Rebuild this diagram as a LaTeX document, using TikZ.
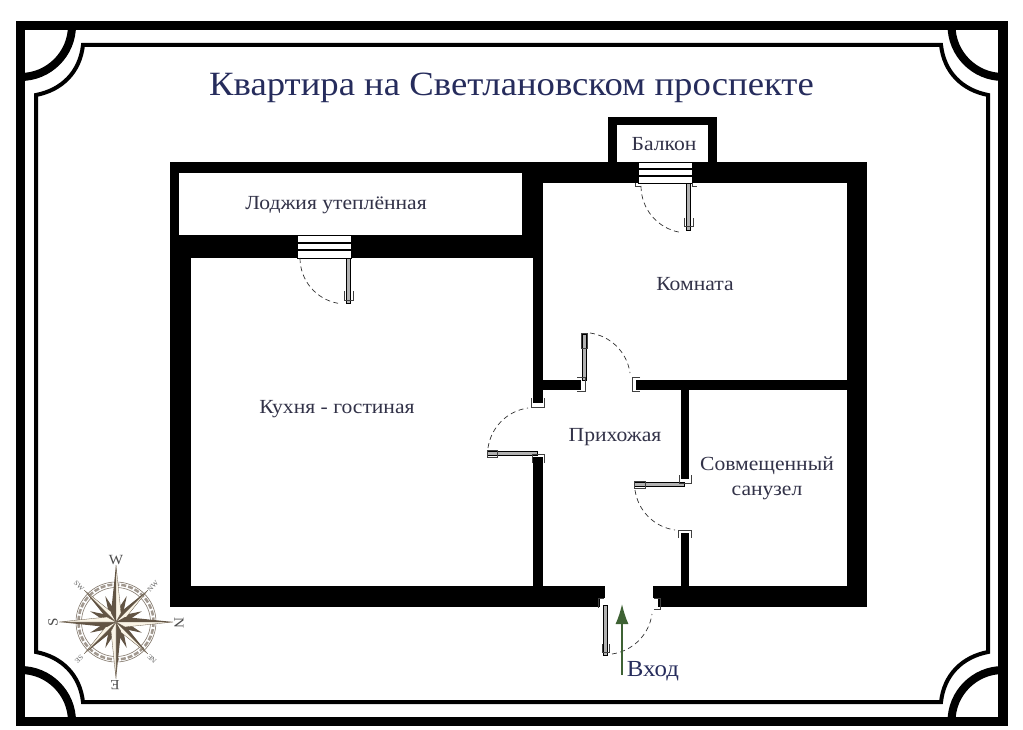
\documentclass[tikz,border=0pt]{standalone}
\usepackage{fontspec}
\setmainfont[FakeStretch=1.08]{Liberation Serif}
\usetikzlibrary{shapes,arrows.meta,positioning}
\definecolor{inkblue}{RGB}{38,44,92}
\definecolor{labelink}{RGB}{50,50,72}
\definecolor{roseink}{RGB}{98,84,68}
\definecolor{rosecream}{RGB}{250,244,230}
\definecolor{arrowgreen}{RGB}{62,98,52}
\begin{document}
\begin{tikzpicture}[x=1pt,y=-1pt,
  wall/.style={fill=black},
  room/.style={fill=white},
  sash/.style={draw=black, line width=.6pt, fill=gray!60},
  jamb/.style={draw=black!75, line width=.6pt},
  swing/.style={draw=black!80, line width=.7pt, dash pattern=on 5pt off 3.5pt},
  roomlabel/.style={text=labelink, font=\fontsize{20}{25}\selectfont, align=center}]
\useasboundingbox (0,0) rectangle (1023,730);
\fill[white] (0,0) rectangle (1023,730);

% frame
\draw[line width=9.5pt, miter limit=10] (20.5,25.5) rectangle (1003,721.5);
\draw[line width=8pt] (72,25.5) arc (0:90:51.5);
\draw[line width=8pt] (951.5,25.5) arc (180:90:51.5);
\draw[line width=8pt] (72,721.5) arc (0:-90:51.5);
\draw[line width=8pt] (951.5,721.5) arc (180:270:51.5);
\draw[line width=4pt] (83,45) -- (941,45) .. controls (944,72) and (962,90) .. (988,95)
  -- (988,652) .. controls (962,657) and (944,675) .. (941,702)
  -- (83,702) .. controls (80,675) and (62,657) .. (36,652)
  -- (36,95) .. controls (62,90) and (80,72) .. (83,45) -- cycle;

\node (title) [text=inkblue, font=\fontsize{34}{40}\selectfont] at (511.5,88) {Квартира на Светлановском проспекте};

% walls
\fill[wall] (170,162) rectangle (867,607);
\fill[wall] (608,117) rectangle (717,163);
\fill[room] (617,125) rectangle (708,162);
\fill[room] (179,173) rectangle (522,235);
\fill[room] (191,258) rectangle (533,586);
\fill[room] (543,183) rectangle (847,380);
\fill[room] (543,390) rectangle (681,586);
\fill[room] (689,390) rectangle (847,586);
% openings
\fill[room] (532,403) rectangle (544,457);
\fill[room] (581,379) rectangle (636,391);
\fill[room] (680,479) rectangle (690,533);
\fill[room] (605,585) rectangle (653,608);
\fill[room] (600,598) rectangle (605,608);
\fill[room] (653,598) rectangle (658,608);

% windows
\draw[fill=white, line width=.8pt] (638,162) rectangle (692,183);
\draw[line width=2pt] (638,169) -- (692,169);
\draw[line width=2pt] (638,176) -- (692,176);
\draw[fill=white, line width=.8pt] (297,235) rectangle (351,258);
\draw[line width=2pt] (297,243) -- (351,243);
\draw[line width=2pt] (297,250) -- (351,250);

% doors
\draw[sash] (346.5,258) rectangle (350.5,303);
\draw[jamb] (344,291) -- (344,300) -- (353,300) -- (353,291);
\draw[swing] (300,258) arc (180:100:46);

\draw[sash] (686.5,183) rectangle (690.5,230);
\draw[jamb] (684,218) -- (684,226) -- (693,226) -- (693,218);
\draw[jamb] (635,183) -- (635,186) -- (641,186);
\draw[jamb] (692,183) -- (692,186) -- (697,186);
\draw[swing] (641,186) arc (180:100:47);

\draw[sash] (582,334) rectangle (586,380);
\draw[jamb] (581,333) -- (581,348) -- (587,348) -- (587,333) -- cycle;
\draw[jamb] (577,377) -- (585,377) -- (585,391) -- (577,391);
\draw[swing] (590,333) arc (-82:-8:47);
\draw[jamb] (640,377) -- (632,377) -- (632,391) -- (640,391);

\draw[sash] (487,451) rectangle (537,455);
\draw[jamb] (487,450) -- (497,450) -- (497,457) -- (487,457) -- cycle;
\draw[jamb] (531,398) -- (531,407) -- (544,407) -- (544,398);
\draw[swing] (488,448) arc (-172:-98:47);
\draw[jamb] (532,463) -- (532,454) -- (544,454) -- (544,463);

\draw[sash] (634,482) rectangle (684,486);
\draw[jamb] (634,481) -- (645,481) -- (645,488) -- (634,488) -- cycle;
\draw[jamb] (679,475) -- (679,483) -- (691,483) -- (691,475);
\draw[swing] (635,490) arc (172:98:47);
\draw[jamb] (678,538) -- (678,530) -- (691,530) -- (691,538);

\draw[sash] (603.5,605) rectangle (607,655);
\draw[jamb] (602,644) -- (602,652) -- (609,652) -- (609,644);
\draw[jamb] (604,598) -- (598,598) -- (598,608);
\draw[swing] (612,654) arc (82:8:47);
\draw[jamb] (654,598) -- (660,598) -- (660,609) -- (654,609);

% labels
\node (balcony) [roomlabel] at (664,144) {Балкон};
\node (loggia) [roomlabel] at (336,205) {Лоджия утеплённая};
\node (bedroom) [roomlabel] at (695,284) {Комната};
\node (kitchen) [roomlabel] at (337,409) {Кухня - гостиная};
\node (hall) [roomlabel] at (615,437) {Прихожая};
\node (bathroom) [roomlabel] at (767,478) {Совмещенный\\санузел};

% entrance
\coordinate (entrytail) at (622,675);
\coordinate (entryhead) at (622,604);
\draw [-{Latex[length=20pt,width=13pt]}, draw=arrowgreen, fill=arrowgreen, line width=1.6pt] (entrytail) -- (entryhead);
\node (entry) [text=inkblue, font=\fontsize{23}{27}\selectfont] at (653,671) {Вход};

% compass
\begin{scope}[shift={(116,622)}]
\draw[roseink!80, line width=.6pt] (0,0) circle (40);
\draw[roseink!80, line width=.6pt] (0,0) circle (34.5);
\draw[roseink!60, line width=2.5pt, dash pattern=on 5pt off 2pt] (0,0) circle (37.5);
\foreach \a in {22.5,67.5,...,337.5}
  \fill[roseink, rotate=\a] (0,0) -- (7,-4) -- (28,0) -- (7,4) -- cycle;
\foreach \a in {45,135,225,315} {
  \fill[roseink, rotate=\a] (0,0) -- (9,-4) -- (45,0) -- cycle;
  \filldraw[fill=rosecream, draw=roseink, line width=.3pt, rotate=\a] (0,0) -- (9,4) -- (45,0) -- cycle;
}
\foreach \a in {0,90,180,270} {
  \fill[roseink, rotate=\a] (0,0) -- (9,-5) -- (57,0) -- cycle;
  \filldraw[fill=rosecream, draw=roseink, line width=.3pt, rotate=\a] (0,0) -- (9,5) -- (57,0) -- cycle;
}
\end{scope}
\node (west) [text=black!70, font=\fontsize{14}{16}\selectfont] at (116,560) {W};
\node (north) [text=black!70, font=\fontsize{14}{16}\selectfont, rotate=-90] at (179,623) {N};
\node (east) [text=black!70, font=\fontsize{14}{16}\selectfont, rotate=180] at (115,685) {E};
\node (south) [text=black!70, font=\fontsize{14}{16}\selectfont, rotate=90] at (53,622) {S};
\node (southwest) [text=black!60, font=\fontsize{7}{8}\selectfont, rotate=-45] at (79,586) {SW};
\node (northwest) [text=black!60, font=\fontsize{7}{8}\selectfont, rotate=45] at (153,586) {NW};
\node (southeast) [text=black!60, font=\fontsize{7}{8}\selectfont, rotate=-135] at (79,659) {SE};
\node (northeast) [text=black!60, font=\fontsize{7}{8}\selectfont, rotate=135] at (152,659) {NE};
\end{tikzpicture}
\end{document}
